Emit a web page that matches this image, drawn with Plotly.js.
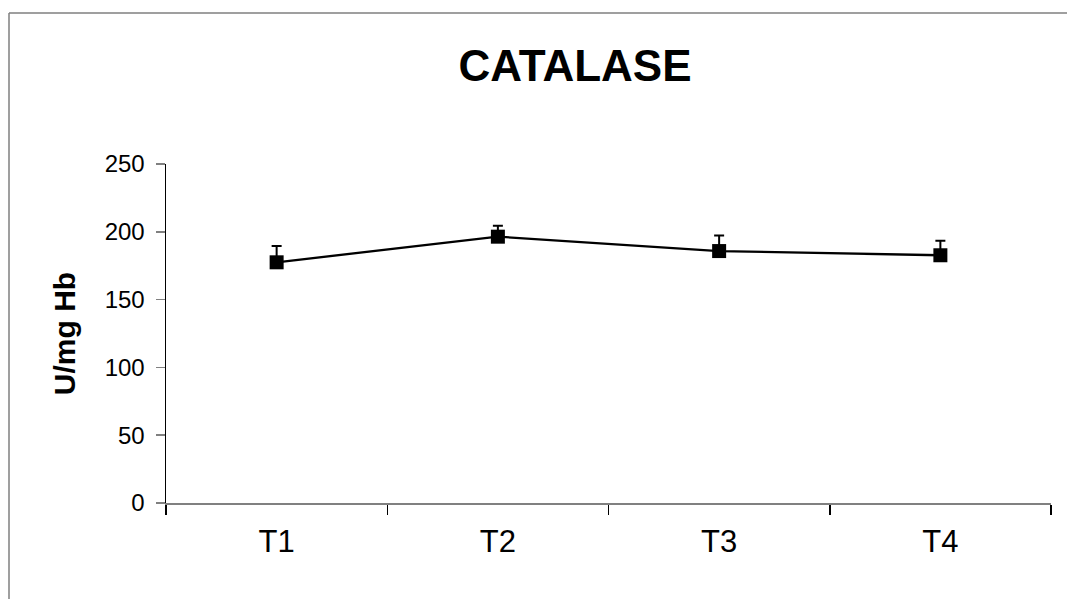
<!DOCTYPE html>
<html>
<head>
<meta charset="utf-8">
<script src="https://cdn.plot.ly/plotly-3.0.1.min.js"></script>
<style>
  html, body { margin: 0; padding: 0; background: #fff; }
  #chart { width: 1067px; height: 599px; }
</style>
</head>
<body>
<div id="chart"></div>
<script>
// ---- data ----
const categories = ['T1', 'T2', 'T3', 'T4'];
const catalase = [177.5, 196.4, 185.8, 182.7];
const catalaseErr = [12, 8, 11.5, 10.7];
const yTickValues = [0, 50, 100, 150, 200, 250];
const titleText = 'CATALASE';
const yTitleText = 'U/mg Hb';

// ---- layout geometry (pixels) ----
const W = 1067, H = 599;
const plotL = 166, plotR = 1051, plotT = 164, plotB = 503;
const pw = plotR - plotL, ph = plotB - plotT;
const px = v => (v - plotL) / pw;
const py = v => (plotB - v) / ph;

const font = 'Arial, "Liberation Sans", Helvetica, sans-serif';

const trace = {
  type: 'scatter',
  mode: 'lines+markers',
  x: categories,
  y: catalase,
  line: { color: '#000000', width: 2.3 },
  marker: { symbol: 'square', size: 14, color: '#000000' },
  error_y: {
    type: 'data',
    symmetric: false,
    array: catalaseErr,
    arrayminus: catalaseErr.map(() => 0),
    color: '#000000',
    thickness: 2,
    width: 5
  },
  hoverinfo: 'x+y',
  showlegend: false
};

const layout = {
  width: W,
  height: H,
  margin: { l: plotL, r: W - plotR, t: plotT, b: H - plotB, pad: 0 },
  paper_bgcolor: '#ffffff',
  plot_bgcolor: '#ffffff',
  font: { family: font, color: '#000000' },
  title: {
    text: '<b>' + titleText + '</b>',
    font: { family: font, size: 44, color: '#000000' },
    xref: 'container', yref: 'container',
    x: 575 / W, y: 1 - 66 / H,
    xanchor: 'center', yanchor: 'middle'
  },
  xaxis: {
    type: 'category',
    range: [-0.5, categories.length - 0.5],
    showgrid: false,
    zeroline: false,
    showline: true,
    linecolor: '#808080',
    linewidth: 1.5,
    ticks: 'outside',
    tickson: 'boundaries',
    ticklen: 10,
    tickwidth: 1.5,
    tickcolor: '#000000',
    tickfont: { family: font, size: 31, color: '#000000' },
    ticklabelstandoff: 10,
    fixedrange: true
  },
  yaxis: {
    range: [0, 250],
    tickvals: yTickValues,
    showgrid: false,
    zeroline: false,
    showline: true,
    linecolor: '#000000',
    linewidth: 1.5,
    ticks: 'outside',
    ticklen: 9,
    tickwidth: 1.5,
    tickcolor: '#808080',
    tickfont: { family: font, size: 24, color: '#000000' },
    ticklabelstandoff: 6,
    title: {
      text: '<b>' + yTitleText + '</b>',
      font: { family: font, size: 30, color: '#000000' },
      standoff: 20
    },
    fixedrange: true
  },
  shapes: [
    { type: 'line', xref: 'paper', yref: 'paper',
      x0: px(9), x1: px(9), y0: py(H + 5), y1: py(13),
      line: { color: '#7f7f7f', width: 1.5 } },
    { type: 'line', xref: 'paper', yref: 'paper',
      x0: px(9), x1: px(W + 5), y0: py(13), y1: py(13),
      line: { color: '#7f7f7f', width: 1.5 } }
  ]
};

Plotly.newPlot('chart', [trace], layout, { displayModeBar: false, staticPlot: true });
</script>
</body>
</html>
